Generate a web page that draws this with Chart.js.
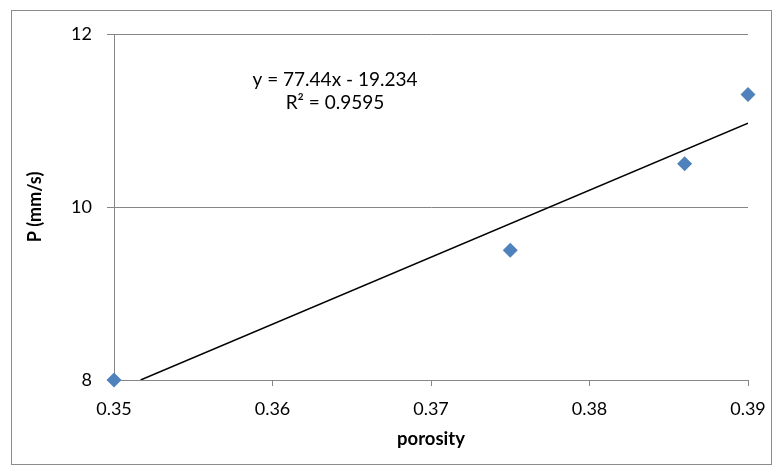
<!DOCTYPE html>
<html>
<head>
<meta charset="utf-8">
<script src="https://cdn.jsdelivr.net/npm/chart.js@4.4.1/dist/chart.umd.min.js"></script>
<style>
  html, body { margin: 0; padding: 0; background: #fff; }
  #wrap { width: 779px; height: 473px; }
</style>
</head>
<body>
<div id="wrap"><canvas id="porosityChart" width="779" height="473"></canvas></div>
<script>
// measured points
const porosity = [0.35, 0.375, 0.386, 0.39];
const permeation = [8, 9.5, 10.5, 11.3];

// trendline as printed on the chart
const slope = 77.44;
const intercept = -19.234;
const rSquared = "0.9595";

const xTicks = [0.35, 0.36, 0.37, 0.38, 0.39];
const yTicks = [8, 10, 12];

const FONT = "Lato, 'Open Sans', sans-serif";

// trendline from y=8 up to the right edge
const trendStartX = (yTicks[0] - intercept) / slope;
const trendEndX = xTicks[xTicks.length - 1];
const trendLine = [
  { x: trendStartX, y: slope * trendStartX + intercept },
  { x: trendEndX, y: slope * trendEndX + intercept }
];

const frameAndLabel = {
  id: "frameAndLabel",
  beforeDraw(chart) {
    const ctx = chart.ctx;
    ctx.save();
    ctx.fillStyle = "#fff";
    ctx.fillRect(0, 0, chart.width, chart.height);
    ctx.strokeStyle = "#8c8c8c";
    ctx.lineWidth = 1;
    ctx.strokeRect(11.5, 10.5, 760, 454);
    ctx.restore();
  },
  afterDraw(chart) {
    const ctx = chart.ctx;
    ctx.save();
    ctx.fillStyle = "#000";
    ctx.font = "19px " + FONT;
    ctx.textAlign = "center";
    ctx.textBaseline = "middle";
    ctx.fillText("y = " + slope + "x - " + Math.abs(intercept), 335, 80);
    ctx.fillText("R\u00b2 = " + rSquared, 335, 103);
    ctx.restore();
  }
};

new Chart(document.getElementById("porosityChart"), {
  type: "scatter",
  data: {
    datasets: [
      {
        label: "P",
        data: porosity.map((x, i) => ({ x: x, y: permeation[i] })),
        pointStyle: "rectRot",
        pointRadius: 7.5,
        pointHoverRadius: 7.5,
        backgroundColor: "#4f81bd",
        borderWidth: 0,
        clip: false,
        order: 1
      },
      {
        label: "trend",
        type: "line",
        data: trendLine,
        borderColor: "#000",
        borderWidth: 1.5,
        pointRadius: 0,
        fill: false,
        order: 2
      }
    ]
  },
  options: {
    responsive: false,
    animation: false,
    events: [],
    layout: { padding: { left: 0, right: 31, top: 34, bottom: 0 } },
    plugins: {
      legend: { display: false },
      tooltip: { enabled: false }
    },
    scales: {
      x: {
        type: "linear",
        min: 0.35,
        max: 0.39,
        afterBuildTicks: (s) => { s.ticks = xTicks.map(v => ({ value: v })); },
        afterFit: (s) => { s.height = 93; },
        ticks: {
          padding: 12,
          color: "#000",
          font: { family: FONT, size: 18 },
          callback: (v) => v.toFixed(2)
        },
        grid: { drawOnChartArea: false, drawTicks: true, tickLength: 6, color: "#868686" },
        border: { color: "#868686" },
        title: {
          display: true,
          text: "porosity",
          color: "#000",
          font: { family: FONT, size: 18.5, weight: "bold" },
          padding: { top: 4, bottom: 23 }
        }
      },
      y: {
        min: 8,
        max: 12,
        afterBuildTicks: (s) => { s.ticks = yTicks.map(v => ({ value: v })); },
        afterFit: (s) => { s.width = 114; },
        ticks: {
          padding: 15,
          color: "#000",
          font: { family: FONT, size: 18 }
        },
        grid: { drawTicks: true, tickLength: 7, color: "#868686" },
        border: { color: "#868686" },
        title: {
          display: true,
          text: "P (mm/s)",
          color: "#000",
          font: { family: FONT, size: 18, weight: "bold" },
          padding: { top: 24, bottom: 0 }
        }
      }
    }
  },
  plugins: [frameAndLabel]
});
</script>
</body>
</html>
